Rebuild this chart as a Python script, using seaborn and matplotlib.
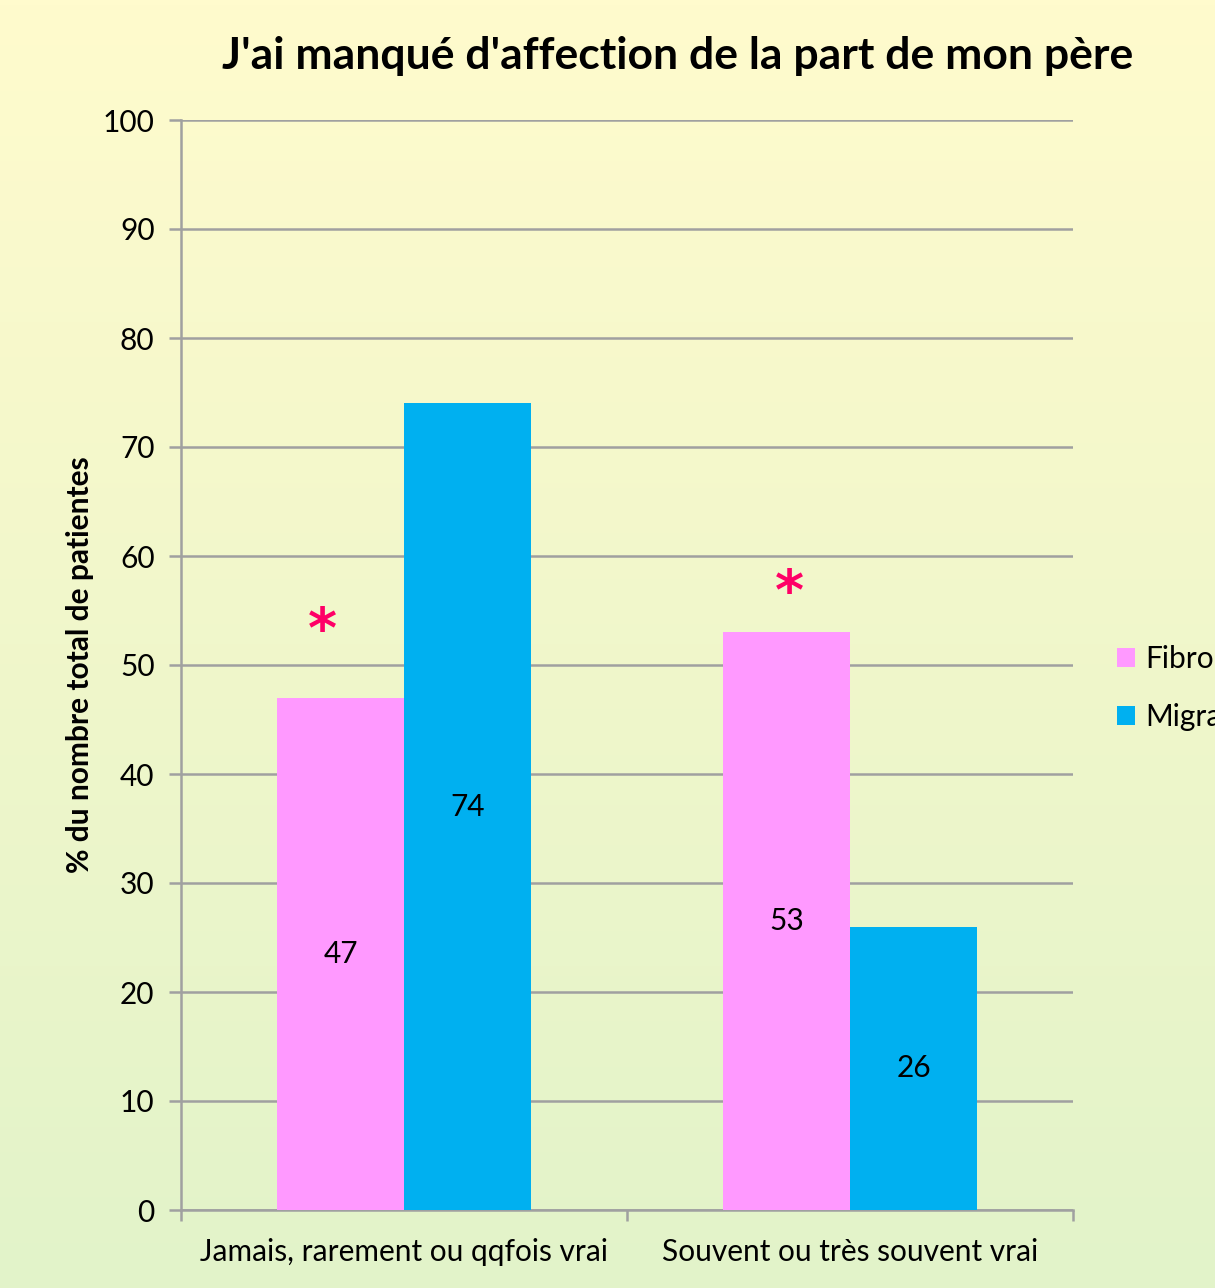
import numpy as np
import pandas as pd
import matplotlib
matplotlib.use("Agg")
import matplotlib.pyplot as plt
import seaborn as sns

# données
categories = ["Jamais, rarement ou qqfois vrai", "Souvent ou très souvent vrai"]
groupes = ["Fibromyalgie", "Migraine"]
fibro = [47, 53]
migraine = [74, 26]
etoiles_x = [-0.183, 0.864]   # astérisques au-dessus des barres roses
etoiles_y = [53, 56.5]

couleurs = {"Fibromyalgie": "#FF99FF", "Migraine": "#00B0F0"}

df = pd.DataFrame({
    "categorie": categories * 2,
    "groupe": [groupes[0]] * 2 + [groupes[1]] * 2,
    "valeur": fibro + migraine,
})

sns.set_style("white")
plt.rcParams["font.family"] = ["Lato", "DejaVu Sans"]
plt.rcParams["text.color"] = "black"
plt.rcParams["axes.labelcolor"] = "black"
plt.rcParams["xtick.color"] = "black"
plt.rcParams["ytick.color"] = "black"

fig = plt.figure(figsize=(12.15, 12.88), dpi=100)

# fond en dégradé jaune -> vert pâle
bg = fig.add_axes([0, 0, 1, 1], zorder=-10)
haut = np.array([255, 251, 205]) / 255
bas = np.array([226, 243, 201]) / 255
t = np.linspace(0, 1, 256)[:, None]
grad = (haut[None, :] * (1 - t) + bas[None, :] * t)[:, None, :]
bg.imshow(grad, aspect="auto", extent=[0, 1, 0, 1])
bg.axis("off")

ax = fig.add_axes([181 / 1215, 1 - 1210 / 1288, (1073 - 181) / 1215, (1210 - 120) / 1288])
ax.patch.set_alpha(0)

sns.barplot(data=df, x="categorie", y="valeur", hue="groupe", palette=couleurs,
            width=0.57, gap=0, saturation=1, linewidth=0, ax=ax, legend=True, zorder=3)

ax.set_xlim(-0.5, 1.5)
ax.set_ylim(0, 100)
ax.set_yticks(range(0, 101, 10))
ax.yaxis.grid(True, color="#A0A0A0", linewidth=1.8, zorder=0)
ax.set_axisbelow(True)
for s in ["top", "right"]:
    ax.spines[s].set_visible(False)
for s in ["left", "bottom"]:
    ax.spines[s].set_color("#A0A0A0")
    ax.spines[s].set_linewidth(1.8)

ax.tick_params(axis="y", length=9, width=1.8, color="#A0A0A0", labelsize=21.5,
               labelcolor="black", pad=10, left=True)
ax.tick_params(axis="x", which="major", length=0, labelsize=21.5, labelcolor="black", pad=20)
ax.set_xticks([-0.5, 0.5, 1.5], minor=True)
ax.tick_params(axis="x", which="minor", length=8, width=1.8, color="#A0A0A0", bottom=True)

ax.set_xlabel("")
ax.set_ylabel("% du nombre total de patientes", fontsize=21.5, fontweight="bold",
              color="black", labelpad=6)

# valeurs au milieu des barres
for cont in ax.containers:
    ax.bar_label(cont, label_type="center", fontsize=21.5, color="black")

# astérisques de significativité
for x, y in zip(etoiles_x, etoiles_y):
    ax.text(x, y, "*", color="#FF0066", fontsize=40, fontweight="bold",
            family="DejaVu Sans", ha="center", va="center")

fig.text(678 / 1215, 1 - 56 / 1288, "J'ai manqué d'affection de la part de mon père",
         fontsize=32, fontweight="bold", ha="center", va="center")

handles, labels = ax.get_legend_handles_labels()
ax.get_legend().remove()
fig.legend(handles, labels, loc="center left", bbox_to_anchor=(1090 / 1215, 1 - 688 / 1288),
           frameon=False, fontsize=21.5, handlelength=0.6, handleheight=0.6,
           labelspacing=1.0, handletextpad=0.35)

fig.savefig("out.png", dpi=100)
